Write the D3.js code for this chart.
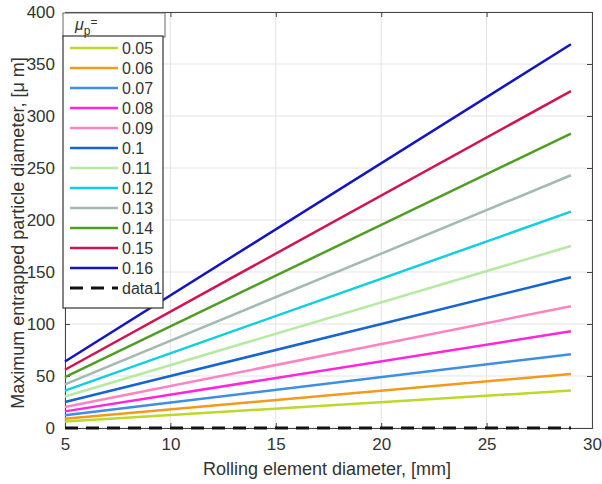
<!DOCTYPE html>
<html>
<head>
<meta charset="utf-8">
<script src="https://cdn.jsdelivr.net/npm/d3@7"></script>
<style>
  body { margin: 0; background: #fff; }
  text { font-family: "Liberation Sans", Arial, sans-serif; fill: #333; }
</style>
</head>
<body>
<svg id="chart" width="602" height="484"></svg>
<script>
// friction coefficients (legend) and line colours
const mu = ['0.05', '0.06', '0.07', '0.08', '0.09', '0.1', '0.11', '0.12', '0.13', '0.14', '0.15', '0.16']
const colors = ['#bcd92a', '#f29a1c', '#3d8fe3', '#ff25dc', '#ff82c4', '#1565d2',
                '#b4eba0', '#12cfe0', '#a3b9b3', '#4f9e24', '#cf1450', '#1414c2']
// rolling element diameter [mm] at start and end of each line
const diam = [5, 29]
// max particle diameter [um] read at D = 5 and D = 29
const startVals = [6.2, 9, 12.2, 16, 20.2, 25, 30.3, 36, 42, 49, 56, 64]
const endVals = [36, 52, 71, 93, 117, 145, 175, 208, 243, 283, 324, 369]
const data1 = [0, 0]

const xTicks = [5, 10, 15, 20, 25, 30]
const yTicks = [0, 50, 100, 150, 200, 250, 300, 350, 400]

const svg = d3.select('#chart')
const m = {left: 65, right: 10, top: 12, bottom: 56}
const W = 602 - m.left - m.right
const H = 484 - m.top - m.bottom

const x = d3.scaleLinear().domain([5, 30]).range([0, W])
const y = d3.scaleLinear().domain([0, 400]).range([H, 0])

const g = svg.append('g').attr('transform', `translate(${m.left},${m.top})`)

// grid
g.selectAll('.gx').data(xTicks).enter().append('line')
  .attr('x1', d => x(d)).attr('x2', d => x(d)).attr('y1', 0).attr('y2', H)
  .attr('stroke', '#e3e3e3').attr('stroke-width', 1)
g.selectAll('.gy').data(yTicks).enter().append('line')
  .attr('y1', d => y(d)).attr('y2', d => y(d)).attr('x1', 0).attr('x2', W)
  .attr('stroke', '#e3e3e3').attr('stroke-width', 1)

// axes (ticks inward, on all four sides)
const fmt = d3.format('d')
g.append('g').attr('transform', `translate(0,${H})`)
  .call(d3.axisBottom(x).tickValues(xTicks).tickSize(-5).tickPadding(10).tickFormat(fmt))
g.append('g')
  .call(d3.axisLeft(y).tickValues(yTicks).tickSize(-5).tickPadding(10).tickFormat(fmt))
g.append('g').call(d3.axisTop(x).tickValues(xTicks).tickSize(-5).tickFormat(''))
g.append('g').attr('transform', `translate(${W},0)`)
  .call(d3.axisRight(y).tickValues(yTicks).tickSize(-5).tickFormat(''))
g.selectAll('.domain').attr('stroke', '#444')
g.selectAll('.tick line').attr('stroke', '#444')
g.selectAll('.tick text').style('font-size', '17px').attr('fill', '#333')

// series lines
const line = d3.line().x((d, i) => x(diam[i])).y(d => y(d))
mu.forEach((m_, i) => {
  g.append('path').datum([startVals[i], endVals[i]])
    .attr('d', line).attr('fill', 'none')
    .attr('stroke', colors[i]).attr('stroke-width', 2.5)
})
g.append('path').datum(data1).attr('d', line).attr('fill', 'none')
  .attr('stroke', '#111').attr('stroke-width', 3).attr('stroke-dasharray', '13,8')

// axis labels
svg.append('text').attr('x', 327).attr('y', 475)
  .attr('text-anchor', 'middle').style('font-size', '18px')
  .text('Rolling element diameter, [mm]')
svg.append('text').attr('transform', 'translate(24,233) rotate(-90)')
  .attr('text-anchor', 'middle').style('font-size', '18px')
  .text('Maximum entrapped particle diameter, [\u03bc m]')

// legend
const lg = svg.append('g').attr('transform', 'translate(63,13)')
const rowH = 20
const n = mu.length + 1
lg.append('rect').attr('x', 0).attr('y', 0).attr('width', 102).attr('height', 24)
  .attr('fill', '#fff').attr('stroke', '#666').attr('stroke-width', 1)
lg.append('rect').attr('x', 0).attr('y', 23).attr('width', 100).attr('height', 12 + n * rowH)
  .attr('fill', '#fff').attr('stroke', '#333').attr('stroke-width', 1.2)
const title = lg.append('text').attr('x', 12).attr('y', 17).style('font-size', '16px')
title.append('tspan').style('font-style', 'italic').text('\u03bc')
title.append('tspan').attr('dy', 5).style('font-size', '12px').text('p')
title.append('tspan').attr('dy', -9).style('font-size', '12px').text('=')

const entries = mu.map((d, i) => ({label: d, color: colors[i], dash: null}))
entries.push({label: 'data1', color: '#111', dash: '13,8'})
const row = lg.selectAll('.row').data(entries).enter().append('g')
  .attr('transform', (d, i) => `translate(0,${35 + i * rowH})`)
row.append('line').attr('x1', 7).attr('x2', 55).attr('y1', 0).attr('y2', 0)
  .attr('stroke', d => d.color).attr('stroke-width', d => d.dash ? 3 : 2.5)
  .attr('stroke-dasharray', d => d.dash)
row.append('text').attr('x', 59).attr('y', 6).style('font-size', '16px')
  .attr('fill', '#333').text(d => d.label)
</script>
</body>
</html>
